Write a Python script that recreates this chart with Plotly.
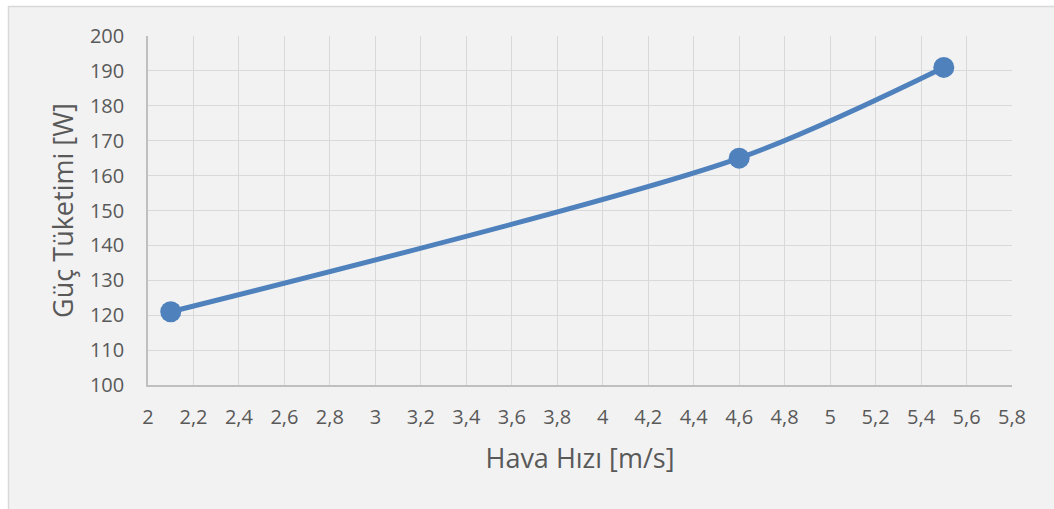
import plotly.graph_objects as go

# Measured fan data
air_speed = [2.1, 4.6, 5.5]          # m/s
power_use = [121, 165, 191]          # W

x_ticks = [2.0, 2.2, 2.4, 2.6, 2.8, 3.0, 3.2, 3.4, 3.6, 3.8, 4.0, 4.2, 4.4, 4.6, 4.8, 5.0, 5.2, 5.4, 5.6, 5.8]
x_tick_text = ["2", "2,2", "2,4", "2,6", "2,8", "3", "3,2", "3,4", "3,6", "3,8", "4",
               "4,2", "4,4", "4,6", "4,8", "5", "5,2", "5,4", "5,6", "5,8"]
y_ticks = [100, 110, 120, 130, 140, 150, 160, 170, 180, 190, 200]

W, H = 1054, 509
L, R, T, B = 148, 42, 36, 124
pw, ph = W - L - R, H - T - B

def px_to_paper_x(px):
    return (px - L) / pw

def px_to_paper_y(py):
    return (H - B - py) / ph

FONT = "Open Sans"
TXT = "#595959"
GRID = "#d9d9d9"
AXIS = "#bfbfbf"
BLUE = "#4f81bd"

fig = go.Figure()
fig.add_trace(go.Scatter(
    x=air_speed, y=power_use,
    mode="lines+markers",
    line=dict(color=BLUE, width=5, shape="spline", smoothing=0.8),
    marker=dict(color=BLUE, size=21),
    cliponaxis=False,
    showlegend=False,
))

# chart frame
fig.add_shape(type="rect", xref="paper", yref="paper", layer="below",
              x0=px_to_paper_x(8.5), x1=px_to_paper_x(W + 20),
              y0=px_to_paper_y(H + 20), y1=px_to_paper_y(6.5),
              fillcolor="#f2f2f2", line=dict(color=GRID, width=1.5))

fig.update_layout(
    width=W, height=H,
    margin=dict(l=L, r=R, t=T, b=B),
    paper_bgcolor="white",
    plot_bgcolor="rgba(0,0,0,0)",
    font=dict(family=FONT, color=TXT, size=20),
    xaxis=dict(
        range=[2, 5.8], tickvals=x_ticks, ticktext=x_tick_text,
        showgrid=True, gridcolor=GRID, gridwidth=1.3,
        showline=True, linecolor=AXIS, linewidth=1.5,
        zeroline=False, ticks="", ticklabelstandoff=13,
        title=dict(text="Hava Hızı [m/s]", font=dict(size=27, color=TXT), standoff=20),
        mirror=False,
    ),
    yaxis=dict(
        range=[100, 200], tickvals=y_ticks,
        showgrid=True, gridcolor=GRID, gridwidth=1.3,
        showline=True, linecolor=AXIS, linewidth=1.5,
        zeroline=False, ticks="", ticklabelstandoff=18,
        title=dict(text="Güç Tüketimi [W]", font=dict(size=27, color=TXT), standoff=8),
    ),
)

fig.write_html("out.html")
